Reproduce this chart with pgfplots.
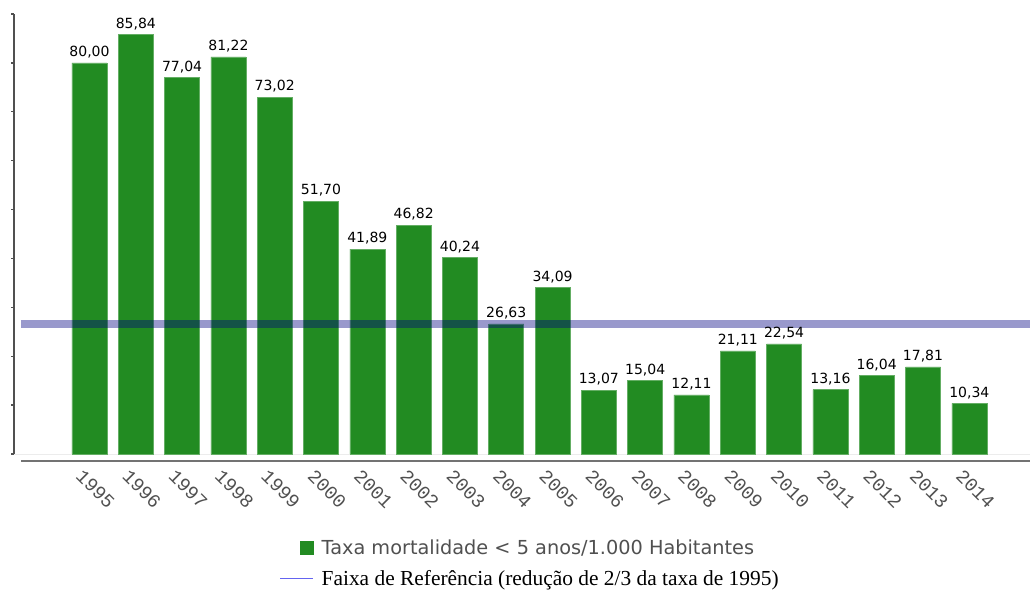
\documentclass[border=0pt]{standalone}
\usepackage{pgfplots}
\pgfplotsset{compat=1.18}
\usepackage{fontspec}
\setmainfont{Liberation Serif}
\newfontfamily\dejavu{DejaVu Sans}
\newfontfamily\mono{Liberation Mono}
\definecolor{bargreen}{RGB}{34,139,34}
\definecolor{refblue}{RGB}{0,0,128}
\definecolor{legblue}{RGB}{100,100,240}
\definecolor{axisgray}{RGB}{80,80,80}
\begin{document}
\begin{tikzpicture}
\useasboundingbox (0,0) rectangle (1030pt,590pt);
\begin{axis}[
    name=ax,
    at={(14pt,136pt)}, anchor=south west,
    scale only axis, width=1016pt, height=440pt,
    xmin=-1.63, xmax=20.31, ymin=0, ymax=90,
    axis x line=bottom, axis y line=left,
    axis line style={-},
    x axis line style={draw=gray!15, line width=1pt},
    y axis line style={draw=axisgray, line width=1.6pt},
    xtick={0,...,19},
    xticklabels={1995,1996,1997,1998,1999,2000,2001,2002,2003,2004,2005,2006,2007,2008,2009,2010,2011,2012,2013,2014},
    major x tick style={draw=none},
    ytick={0,10,...,90}, yticklabels={},
    tick align=outside, major tick length=3pt,
    y tick style={axisgray, line width=1.4pt},
    xticklabel style={font=\mono\fontsize{19}{19}\selectfont, text=axisgray,
        rotate=-45, anchor=north west, inner sep=0pt, xshift=4.2pt, yshift=-12pt},
    legend cell align=left,
    legend style={at={(0.508,-0.19)}, anchor=north, draw=none, fill=none,
        inner sep=0pt, row sep=10pt,
        /tikz/every odd column/.append style={column sep=6pt}},
    ]

    % taxa por ano
    \addplot[ybar, bar width=35pt, fill=bargreen, draw=bargreen!70!white, line width=0.6pt,
        nodes near coords,
        nodes near coords style={font=\dejavu\fontsize{14}{14}\selectfont, text=black, yshift=1pt,
            /pgf/number format/.cd, fixed, fixed zerofill, precision=2, use comma, assume math mode=true},
        legend image code/.code={\fill[bargreen] (-13pt,-6.5pt) rectangle (0pt,6.5pt);}]
    coordinates {
        (0,80.00) (1,85.84) (2,77.04) (3,81.22) (4,73.02)
        (5,51.70) (6,41.89) (7,46.82) (8,40.24) (9,26.63)
        (10,34.09) (11,13.07) (12,15.04) (13,12.11) (14,21.11)
        (15,22.54) (16,13.16) (17,16.04) (18,17.81) (19,10.34)
    };
    \addlegendentry{{\dejavu\fontsize{19.3}{19.3}\selectfont\color{axisgray}Taxa mortalidade < 5 anos/1.000 Habitantes}}

    % faixa de referencia
    \addplot[refblue, opacity=0.4, line width=8pt,
        legend image code/.code={\draw[legblue, line width=1pt, opacity=1] (-33pt,0pt) -- (0pt,0pt);}]
    coordinates {(-1.48,26.67) (20.31,26.67)};
    \addlegendentry{{\fontsize{21.4}{21.4}\selectfont Faixa de Referência (redução de 2/3 da taxa de 1995)}}
\end{axis}
\draw[axisgray!80, line width=1.5pt] ([xshift=7pt,yshift=-7pt]ax.south west) -- ([yshift=-7pt]ax.south east);
\end{tikzpicture}
\end{document}
